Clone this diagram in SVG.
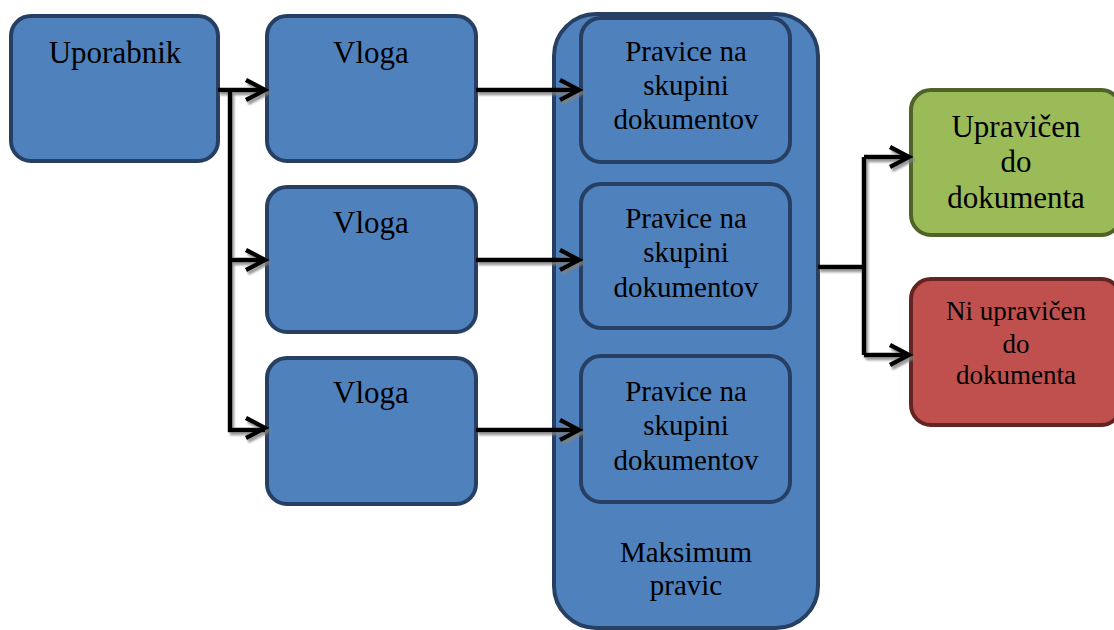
<svg xmlns="http://www.w3.org/2000/svg" width="1114" height="630" viewBox="0 0 1114 630">
<defs>
<style>
.b{fill:#4f81bd;stroke:#263f62;stroke-width:4}
.g{fill:#9bbb59;stroke:#4f6228;stroke-width:4}
.r{fill:#c0504d;stroke:#632523;stroke-width:4}
text{font-family:"Liberation Serif","Times New Roman",serif;fill:#000;text-anchor:middle}
.c{fill:none;stroke:#000;stroke-width:4.5}
</style>
<filter id="sh" x="-10%" y="-10%" width="130%" height="130%">
<feDropShadow dx="2" dy="3" stdDeviation="1" flood-color="#808080" flood-opacity="0.8"/>
</filter>
</defs>
<rect width="1114" height="630" fill="#fff"/>

<g id="uporabnik">
<rect class="b" x="11" y="16" width="207" height="145" rx="20"/>
<text x="115" y="63" font-size="31">Uporabnik</text>
</g>
<g id="vloga1">
<rect class="b" x="267" y="16" width="209" height="145" rx="20"/>
<text x="371" y="63" font-size="31">Vloga</text>
</g>
<g id="vloga2">
<rect class="b" x="267" y="187" width="209" height="145" rx="20"/>
<text x="371" y="233" font-size="31">Vloga</text>
</g>
<g id="vloga3">
<rect class="b" x="267" y="358" width="209" height="146" rx="20"/>
<text x="371" y="403" font-size="31">Vloga</text>
</g>

<g id="maksimum">
<rect class="b" x="554" y="14" width="264" height="614" rx="42"/>
<text x="686" y="562" font-size="29">Maksimum</text>
<text x="686" y="595" font-size="29">pravic</text>
</g>
<g id="pravice1">
<rect class="b" x="581" y="18" width="209" height="144" rx="20"/>
<text x="686" y="61" font-size="29">Pravice na</text>
<text x="686" y="95" font-size="29">skupini</text>
<text x="686" y="129" font-size="29">dokumentov</text>
</g>
<g id="pravice2">
<rect class="b" x="581" y="184" width="209" height="144" rx="20"/>
<text x="686" y="228" font-size="29">Pravice na</text>
<text x="686" y="262" font-size="29">skupini</text>
<text x="686" y="297" font-size="29">dokumentov</text>
</g>
<g id="pravice3">
<rect class="b" x="581" y="356" width="209" height="146" rx="20"/>
<text x="686" y="401" font-size="29">Pravice na</text>
<text x="686" y="435" font-size="29">skupini</text>
<text x="686" y="470" font-size="29">dokumentov</text>
</g>

<g id="upravicen">
<rect class="g" x="911" y="90" width="210" height="145" rx="20"/>
<text x="1016" y="137" font-size="31">Upravičen</text>
<text x="1016" y="172" font-size="31">do</text>
<text x="1016" y="208" font-size="31">dokumenta</text>
</g>
<g id="ni-upravicen">
<rect class="r" x="911" y="279" width="210" height="146" rx="20"/>
<text x="1016" y="320" font-size="27">Ni upravičen</text>
<text x="1016" y="353" font-size="27">do</text>
<text x="1016" y="384" font-size="27">dokumenta</text>
</g>

<g id="connectors" filter="url(#sh)">
<path class="c" d="M218 90H265M230 88V430H265M230 260H265"/>
<path class="c" d="M246 80L265 90L246 100M246 250L265 260L246 270M246 418L265 428L246 438"/>
<path class="c" d="M476 90H579M476 260H579M476 430H579"/>
<path class="c" d="M560 80L579 90L560 100M560 250L579 260L560 270M560 420L579 430L560 440"/>
<path class="c" d="M818 267H864M864 157V355M864 157H909M864 355H909"/>
<path class="c" d="M890 147L909 157L890 167M890 345L909 355L890 365"/>
</g>
</svg>
